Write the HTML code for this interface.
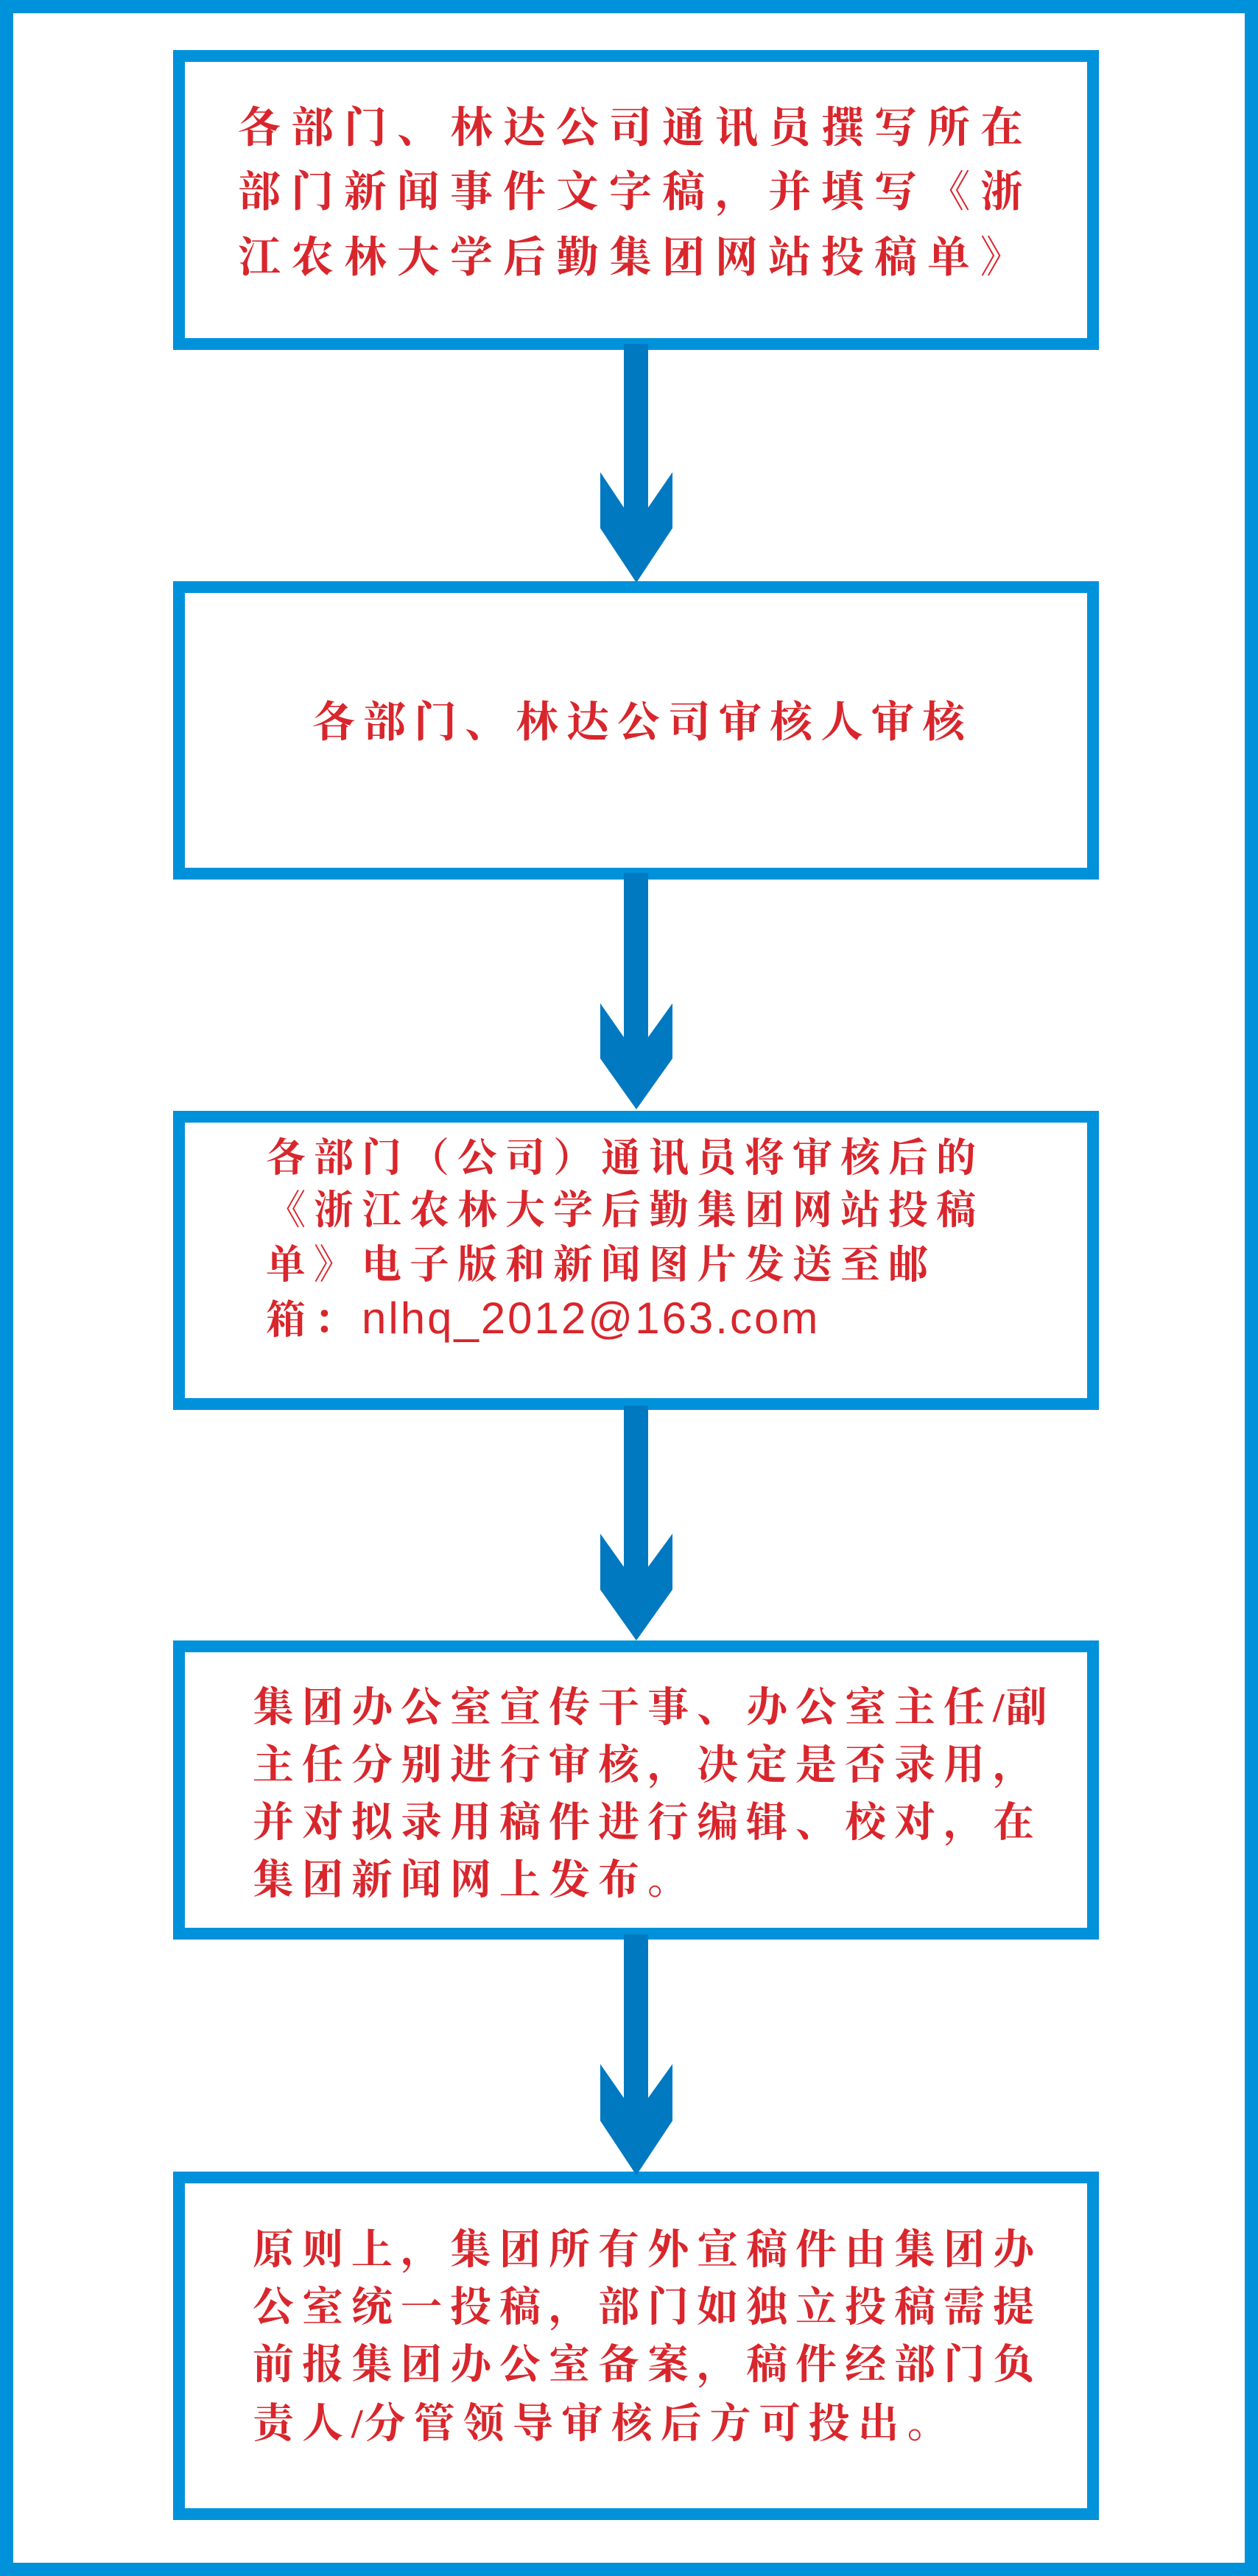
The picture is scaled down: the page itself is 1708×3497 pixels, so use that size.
<!DOCTYPE html>
<html><head><meta charset="utf-8"><style>
html,body{margin:0;padding:0;}
body{width:1708px;height:3497px;position:relative;background:#fff;overflow:hidden;}
.outer{position:absolute;left:0;top:0;width:1708px;height:3497px;box-sizing:border-box;border:18px solid #0091db;}
.box{position:absolute;left:235px;width:1257px;box-sizing:border-box;border:16px solid #0091db;background:#fff;}
.t{position:absolute;white-space:nowrap;color:#d8262c;font-family:"Liberation Serif","Noto Serif CJK SC","Noto Sans CJK SC",serif;font-weight:bold;line-height:70px;}
svg{position:absolute;left:0;top:0;}
</style></head><body>
<div class="outer"></div>
<div class="box" style="top:68px;height:407px"></div>
<div class="box" style="top:789px;height:405px"></div>
<div class="box" style="top:1508px;height:406px"></div>
<div class="box" style="top:2227px;height:406px"></div>
<div class="box" style="top:2948px;height:473px"></div>
<svg width="1708" height="3497">
<polygon fill="#0079c1" points="847,467 880,467 880,689 913,641 913,717 864,791 815,717 815,641 847,689"/>
<polygon fill="#0079c1" points="847,1185 880,1185 880,1408 913,1362 913,1437 864,1506 815,1437 815,1362 847,1408"/>
<polygon fill="#0079c1" points="847,1908 880,1908 880,2127 913,2082 913,2158 864,2227 815,2158 815,2082 847,2127"/>
<polygon fill="#0079c1" points="847,2626 880,2626 880,2848 913,2802 913,2879 864,2953 815,2879 815,2802 847,2848"/>
</svg>
<!-- box1 -->
<div class="t" style="left:323px;top:139px;font-size:58px;letter-spacing:14px">各部门、林达公司通讯员撰写所在</div>
<div class="t" style="left:323px;top:226px;font-size:58px;letter-spacing:14px">部门新闻事件文字稿，并填写《浙</div>
<div class="t" style="left:323px;top:315px;font-size:58px;letter-spacing:14px">江农林大学后勤集团网站投稿单》</div>
<!-- box2 -->
<div class="t" style="left:424px;top:946px;font-size:58px;letter-spacing:11px">各部门、林达公司审核人审核</div>
<!-- box3 -->
<div class="t" style="left:361px;top:1537px;font-size:54px;letter-spacing:11px">各部门（公司）通讯员将审核后的</div>
<div class="t" style="left:361px;top:1608px;font-size:54px;letter-spacing:11px">《浙江农林大学后勤集团网站投稿</div>
<div class="t" style="left:361px;top:1682px;font-size:54px;letter-spacing:11px">单》电子版和新闻图片发送至邮</div>
<div class="t" style="left:361px;top:1755px;font-size:54px;letter-spacing:11px">箱：<span style="font-family:'Liberation Sans',sans-serif;font-weight:normal;font-size:60px;letter-spacing:3px">nlhq_2012@163.com</span></div>
<!-- box4 -->
<div class="t" style="left:343px;top:2284px;font-size:56px;letter-spacing:11px">集团办公室宣传干事、办公室主任<span style="letter-spacing:2px">/</span>副</div>
<div class="t" style="left:343px;top:2362px;font-size:56px;letter-spacing:11px">主任分别进行审核，决定是否录用，</div>
<div class="t" style="left:343px;top:2440px;font-size:56px;letter-spacing:11px">并对拟录用稿件进行编辑、校对，在</div>
<div class="t" style="left:343px;top:2518px;font-size:56px;letter-spacing:11px">集团新闻网上发布。</div>
<!-- box5 -->
<div class="t" style="left:343px;top:3020px;font-size:56px;letter-spacing:11px">原则上，集团所有外宣稿件由集团办</div>
<div class="t" style="left:343px;top:3098px;font-size:56px;letter-spacing:11px">公室统一投稿，部门如独立投稿需提</div>
<div class="t" style="left:343px;top:3176px;font-size:56px;letter-spacing:11px">前报集团办公室备案，稿件经部门负</div>
<div class="t" style="left:343px;top:3256px;font-size:56px;letter-spacing:11px">责人<span style="letter-spacing:2px">/</span>分管领导审核后方可投出。</div>
</body></html>
